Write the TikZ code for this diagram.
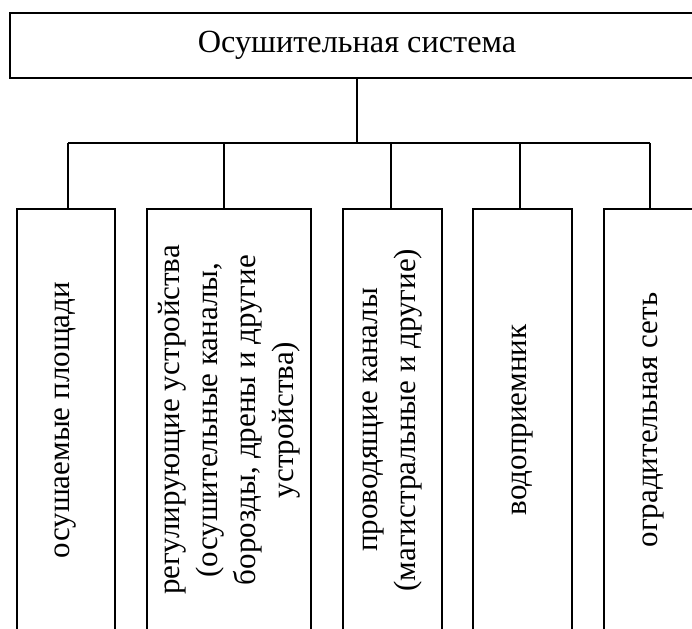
\documentclass[tikz,border=0pt]{standalone}
\usepackage{fontspec}
\setmainfont{Liberation Serif}
\begin{document}
\begin{tikzpicture}[x=1pt,y=-1pt,line width=1.3pt,
  every node/.style={font=\fontsize{31}{38}\selectfont},
  part/.style={draw,rotate=90,minimum width=422pt,align=center,inner sep=0pt}]
\useasboundingbox (0,0) rectangle (692,628);
\clip (0,0) rectangle (692,628);
% main box
\node[draw,minimum width=694pt,minimum height=65pt,font=\fontsize{32.3}{38}\selectfont] (sys) at (357,45.5) {Осушительная система};
% parts
\node[part,minimum height=98pt] (p1) at (66,420) {осушаемые площади};
\node[part,minimum height=164pt] (p2) at (229,420) {регулирующие устройства\\(осушительные каналы,\\борозды, дрены и другие\\устройства)};
\node[part,minimum height=99pt] (p3) at (392.5,420) {проводящие каналы\\(магистральные и другие)};
\node[part,minimum height=99pt] (p4) at (522.5,420) {водоприемник};
\node[part,minimum height=98pt] (p5) at (653,420) {оградительная сеть};
% connectors
\coordinate (hub) at (357,143);
\coordinate (d1) at (68,143);
\coordinate (d2) at (224,143);
\coordinate (d3) at (391,143);
\coordinate (d4) at (520,143);
\coordinate (d5) at (650,143);
\draw (sys.south) -- (hub);
\draw (d1) -- (d5);
\foreach \i in {1,...,5}
  \draw (d\i) -- (d\i |- p\i.east);
\end{tikzpicture}
\end{document}
